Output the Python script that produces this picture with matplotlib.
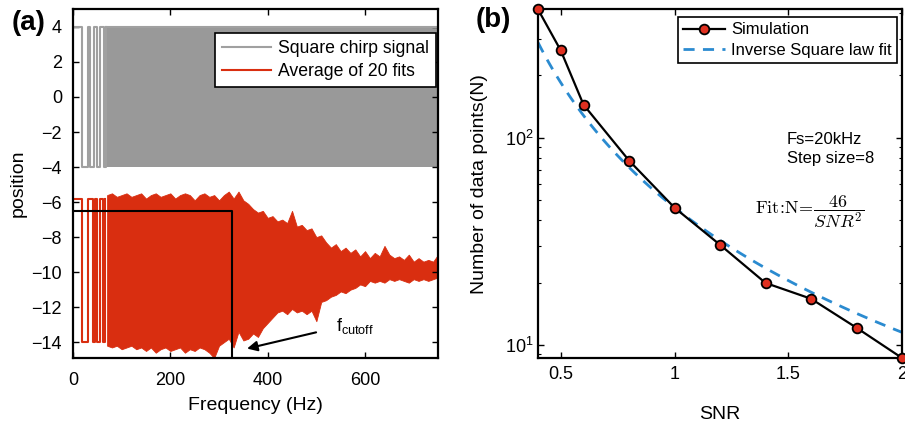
import numpy as np
import matplotlib.pyplot as plt

plt.rcParams['font.family'] = ['Liberation Sans', 'DejaVu Sans']

# ---- panel (a) data ----
# square chirp: sparse switching at the start, then a dense band
chirp_f = [0, 18.5, 30, 35, 44, 49, 56, 63, 68]
chirp_v = [4, -4, 4, -4, 4, -4, 4, -4, 4]
chirp_band_f = [68, 750]
chirp_lo = -4
chirp_hi = 4

# averaged fit: sparse switching, then envelope of the dense part
fit_f = [0, 18, 31.5, 42, 45, 50, 56, 62, 66]
fit_v = [-5.8, -14.0, -5.8, -14.0, -5.8, -14.0, -5.8, -14.0, -5.8]
env_f = np.arange(70, 751, 10)
env_hi = [-5.6, -5.5, -5.7, -5.6, -5.5, -5.7, -5.6, -5.5, -5.8, -5.6,
          -5.5, -5.7, -5.6, -5.5, -5.8, -5.6, -5.5, -5.6, -5.9, -5.6,
          -5.5, -5.7, -5.6, -5.9, -5.6, -5.4, -5.8, -5.4, -5.9, -6.1,
          -6.4, -6.6, -6.5, -6.9, -6.8, -7.1, -7.0, -7.2, -6.5, -7.4,
          -7.3, -7.6, -7.5, -8.0, -7.9, -8.3, -8.6, -8.4, -8.8, -8.6,
          -8.9, -8.7, -9.1, -8.8, -9.2, -8.9, -9.1, -8.5, -9.0, -9.2,
          -9.1, -9.3, -9.0, -9.4, -9.2, -9.4, -9.3, -9.4, -9.0]
env_lo = [-14.2, -14.3, -14.2, -14.4, -14.3, -14.2, -14.4, -14.3, -14.5, -14.3,
          -14.6, -14.4, -14.3, -14.5, -14.4, -14.3, -14.6, -14.4, -14.5, -14.3,
          -14.4, -14.6, -14.9, -14.2, -14.0, -13.8, -14.3, -13.4, -13.9, -13.8,
          -13.5, -13.7, -13.2, -12.9, -12.6, -12.3, -12.2, -12.4, -12.1, -12.3,
          -12.2, -12.4, -12.2, -12.8, -11.7, -11.6, -11.4, -11.3, -11.1, -11.2,
          -11.0, -10.9, -10.7, -10.8, -10.5, -10.6, -10.5, -10.6, -10.4, -10.5,
          -10.4, -10.5, -10.6, -10.4, -10.5, -10.4, -10.5, -10.4, -10.3]
f_cutoff = 327
cut_level = -6.5

# ---- panel (b) data ----
snr = [0.4, 0.5, 0.6, 0.8, 1.0, 1.2, 1.4, 1.6, 1.8, 2.0]
n_points = [415, 263, 144, 77.5, 45.9, 30.4, 19.9, 16.7, 12.1, 8.65]
fit_coef = 46

gray = '#a0a0a0'
red = '#d92e10'
blue = '#2b8bd0'

fig = plt.figure(figsize=(9.05, 4.22), dpi=100)
ax1 = fig.add_axes([0.0807, 0.1517, 0.4033, 0.826])
ax2 = fig.add_axes([0.5945, 0.1517, 0.4022, 0.826])

# (a)
ax1.step(chirp_f, chirp_v, where='post', color=gray, lw=1.5, label='Square chirp signal')
ax1.fill_between(chirp_band_f, chirp_lo, chirp_hi, color='#999999', lw=0)
ax1.plot(chirp_band_f, [chirp_hi, chirp_hi], color=gray, lw=1.5)
ax1.step(fit_f, fit_v, where='post', color=red, lw=1.5, label='Average of 20 fits')
ax1.fill_between(env_f, env_lo, env_hi, color=red, lw=0.6, edgecolor=red)
ax1.plot([0, f_cutoff, f_cutoff], [cut_level, cut_level, -15], color='black', lw=1.5)
ax1.annotate('', xy=(352, -14.4), xytext=(505, -13.4),
             arrowprops=dict(arrowstyle='-|>', color='black', lw=1.5, mutation_scale=15))
ax1.text(540, -13.1, r'f$_{\mathregular{cutoff}}$', fontsize=13, va='center')
ax1.set_xlim(0, 750)
ax1.set_ylim(-14.9, 5)
ax1.set_xticks([0, 200, 400, 600])
ax1.set_yticks(range(-14, 5, 2))
ax1.set_yticklabels([str(v).replace('-', '\u2212') for v in range(-14, 5, 2)])
ax1.set_xlabel('Frequency (Hz)', fontsize=14, labelpad=6)
ax1.set_ylabel('position', fontsize=14, labelpad=3)
ax1.tick_params(axis='x', pad=10)
ax1.tick_params(axis='y', pad=8)
leg1 = ax1.legend(loc='upper right', bbox_to_anchor=(0.995, 0.933), borderaxespad=0,
                  fontsize=12.7, fancybox=False, framealpha=1, edgecolor='black',
                  handlelength=2.8, handletextpad=0.4, labelspacing=0.35, borderpad=0.4)
leg1.get_frame().set_linewidth(1.2)

# (b)
snr_fit = np.linspace(0.4, 2.0, 100)
ax2.plot(snr, n_points, color='black', lw=1.6, marker='o', ms=7,
         mfc='#e03020', mec='black', mew=1.3, label='Simulation', zorder=3, clip_on=False)
ax2.plot(snr_fit, fit_coef / snr_fit**2, color=blue, lw=2, ls=(0, (4, 3)),
         label='Inverse Square law fit')
ax2.set_yscale('log')
ax2.set_xlim(0.4, 2.0)
ax2.set_ylim(8.65, 415)
ax2.set_xticks([0.5, 1, 1.5, 2])
ax2.set_xticklabels(['0.5', '1', '1.5', '2'])
ax2.set_xlabel('SNR', fontsize=14, labelpad=16)
ax2.set_ylabel('Number of data points(N)', fontsize=14, labelpad=12)
ax2.tick_params(axis='x', pad=6)
ax2.text(1.494, 98, 'Fs=20kHz', fontsize=12, va='center')
ax2.text(1.494, 79, 'Step size=8', fontsize=12, va='center')
ax2.text(1.354, 44, r'$\mathrm{Fit}\!:\!\mathrm{N}\!=\!\dfrac{46}{SNR^2}$',
         fontsize=13, va='center', math_fontfamily='cm')
leg2 = ax2.legend(loc='upper right', bbox_to_anchor=(0.986, 0.977), borderaxespad=0,
                  fontsize=12, fancybox=False, framealpha=1, edgecolor='black',
                  handlelength=2.5, handletextpad=0.4, labelspacing=0.35, borderpad=0.3)
leg2.get_frame().set_linewidth(1.2)

for ax in (ax1, ax2):
    for s in ax.spines.values():
        s.set_linewidth(1.6)
    ax.tick_params(direction='in', top=True, right=True, labelsize=13, length=4, width=1)
    ax.tick_params(which='minor', direction='in', top=False, right=True, length=2.5, width=0.8)

fig.text(0.013, 0.945, '(a)', fontsize=20, fontweight='bold', va='center')
fig.text(0.525, 0.952, '(b)', fontsize=20, fontweight='bold', va='center')

fig.savefig('out.png', dpi=100)
